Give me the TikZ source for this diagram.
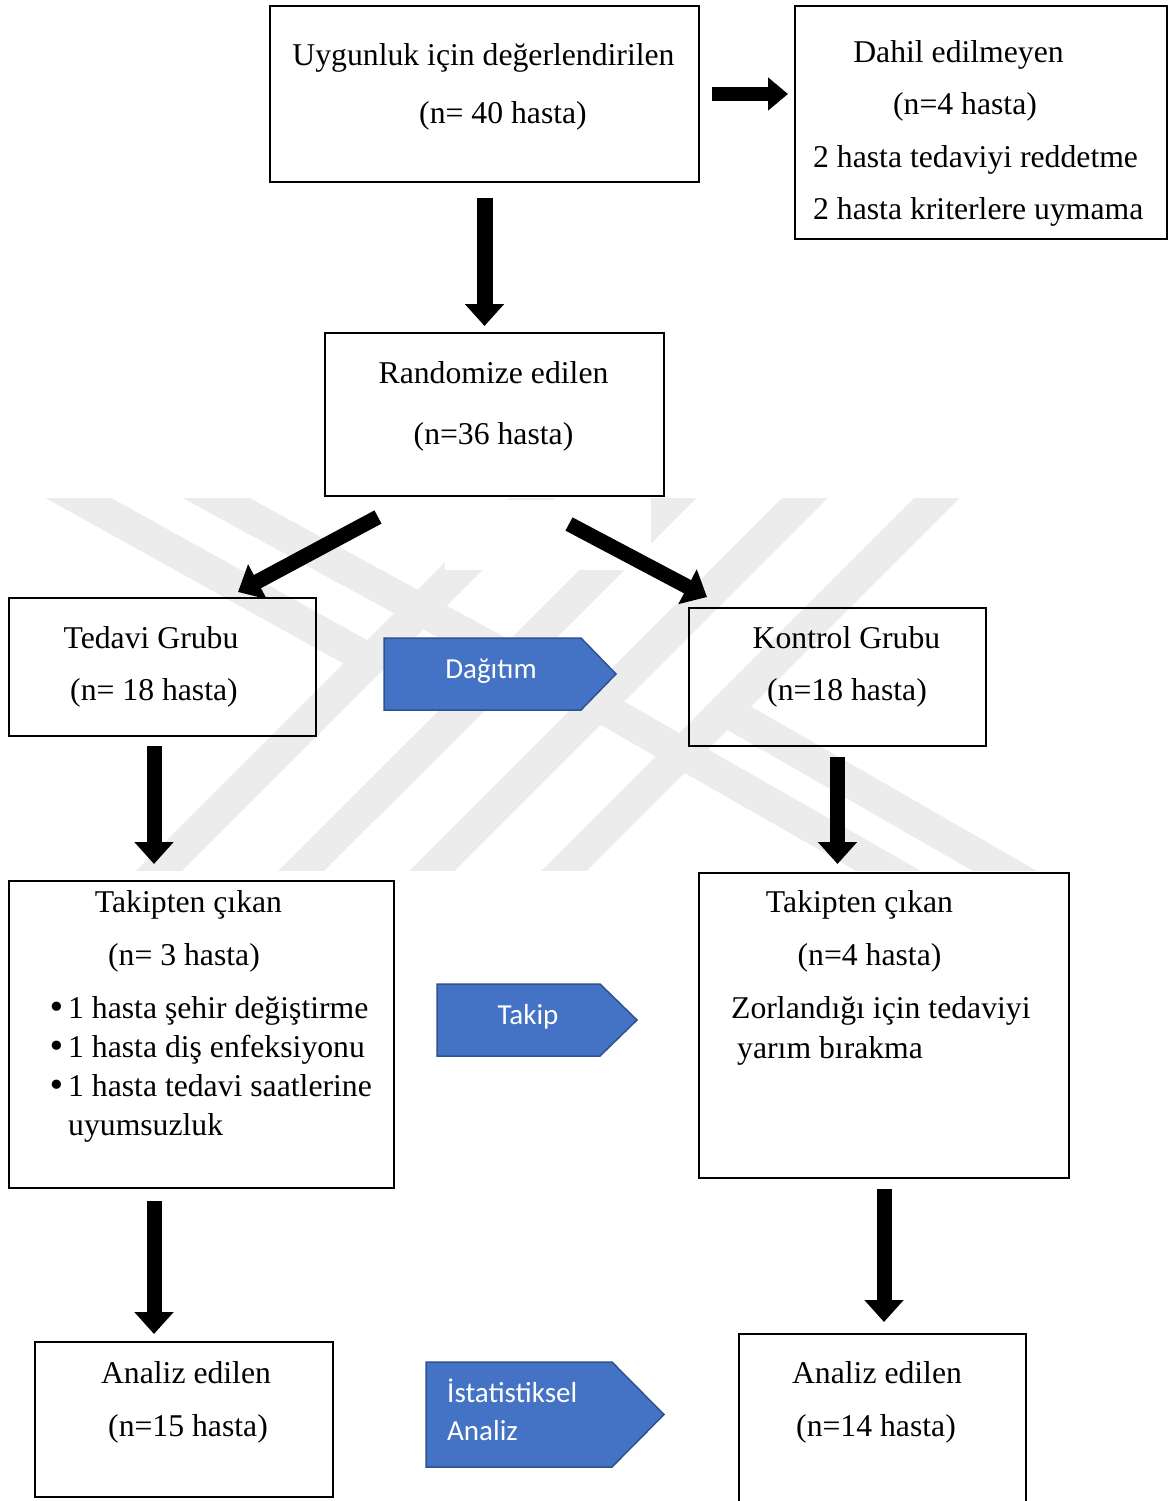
\documentclass[tikz,border=0pt]{standalone}
\usepackage{fontspec}
\setmainfont{Liberation Serif}
\newfontfamily\calfont{Carlito}
\newfontfamily\djvfont{DejaVu Sans}
\usetikzlibrary{arrows.meta}
\definecolor{wm}{RGB}{236,236,236}
\definecolor{bluefill}{RGB}{68,114,196}
\definecolor{blueline}{RGB}{47,82,143}
\newcommand{\bulletmark}{{\djvfont •}\kern1.7pt}
\begin{document}
\begin{tikzpicture}[x=1pt,y=-1pt,
 box/.style={draw=black,line width=2pt,inner sep=0pt,anchor=north west},
 tx/.style={font=\fontsize{31.7}{38}\selectfont,inner sep=0pt,text height=21pt,text depth=0pt},
 sx/.style={font=\calfont\fontsize{29}{35}\selectfont,text=white,inner sep=0pt,text height=18.7pt,text depth=0pt},
 bigarrow/.style={draw=black,line width=16pt,-{Triangle[width=38pt,length=22pt]}},
 band/.style={draw=wm,line width=32pt,line join=miter,miter limit=10},
 chev/.style={fill=bluefill,draw=blueline,line width=1.5pt}]
\useasboundingbox (0,0) rectangle (1168,1501);
\clip (0,0) rectangle (1168,1501);
\fill[white] (0,0) rectangle (1168,1501);
% watermark
\begin{scope}
\clip (0,498) rectangle (1168,870);
\draw[band] (140,890) -- (550,480);
\draw[band] (282,890) -- (692,480);
\draw[band] (413,890) -- (823,480);
\draw[band] (545,890) -- (955,480);
\draw[band] (46,480) -- (370,660) -- (140,890);
\draw[band] (183,480) -- (513,660) -- (282,890);
\draw[band] (955,480) -- (725,710) -- (1038,890);
\draw[band] (823,480) -- (598,705) -- (922,890);
\fill[white] (445,500) rectangle (651,570);
\end{scope}
% boxes
\node[box,minimum width=429pt,minimum height=176pt] (u) at (269,5) {};
\node[box,minimum width=372pt,minimum height=233pt] (d) at (794,5) {};
\node[box,minimum width=339pt,minimum height=163pt] (r) at (324,332) {};
\node[box,minimum width=307pt,minimum height=138pt] (teg) at (8,597) {};
\node[box,minimum width=297pt,minimum height=138pt] (kon) at (688,607) {};
\node[box,minimum width=385pt,minimum height=307pt] (tk) at (8,880) {};
\node[box,minimum width=370pt,minimum height=305pt] (tr) at (698,872) {};
\node[box,minimum width=298pt,minimum height=155pt] (al) at (34,1341) {};
\node[box,minimum width=287pt,minimum height=200pt] (ar) at (738,1333) {};
% texts
\node[tx] (u1) at (483.5,55) {Uygunluk için değerlendirilen};
\node[tx] (u2) at (503,113) {(n= 40 hasta)};
\node[tx] (d1) at (958.5,52) {Dahil edilmeyen};
\node[tx] (d2) at (965,104) {(n=4 hasta)};
\node[tx,anchor=west] (d3) at (813,157) {2 hasta tedaviyi reddetme};
\node[tx,anchor=west] (d4) at (813,209) {2 hasta kriterlere uymama};
\node[tx] (r1) at (493.5,373) {Randomize edilen};
\node[tx] (r2) at (493.5,434) {(n=36 hasta)};
\node[tx] (t1) at (151,638) {Tedavi Grubu};
\node[tx] (t2) at (154,690) {(n= 18 hasta)};
\node[tx] (k1) at (846.5,638) {Kontrol Grubu};
\node[tx] (k2) at (847,690) {(n=18 hasta)};
\node[tx] (tk1) at (188.5,902) {Takipten çıkan};
\node[tx] (tk2) at (184,955) {(n= 3 hasta)};
\node[tx,anchor=west] (tk3) at (47.6,1008) {\bulletmark 1 hasta şehir değiştirme};
\node[tx,anchor=west] (tk4) at (47.6,1047) {\bulletmark 1 hasta diş enfeksiyonu};
\node[tx,anchor=west] (tk5) at (47.6,1086) {\bulletmark 1 hasta tedavi saatlerine};
\node[tx,anchor=west] (tk6) at (68,1125) {uyumsuzluk};
\node[tx] (tr1) at (859.5,902) {Takipten çıkan};
\node[tx] (tr2) at (869.5,955) {(n=4 hasta)};
\node[tx,anchor=west] (tr3) at (731,1008) {Zorlandığı için tedaviyi};
\node[tx,anchor=west] (tr4) at (737,1048) {yarım bırakma};
\node[tx] (al1) at (186,1373) {Analiz edilen};
\node[tx] (al2) at (188,1426) {(n=15 hasta)};
\node[tx] (ar1) at (877,1373) {Analiz edilen};
\node[tx] (ar2) at (876,1426) {(n=14 hasta)};
% blue pentagons
\draw[chev] (384,638) -- (581,638) -- (616,674) -- (581,710) -- (384,710) -- cycle;
\node[sx] (dg) at (491,669) {Dağıtım};
\draw[chev] (437,984) -- (600,984) -- (637,1020) -- (600,1056) -- (437,1056) -- cycle;
\node[sx] (tkp) at (528,1015) {Takip};
\draw[chev] (426,1362) -- (612,1362) -- (664,1414.5) -- (612,1467) -- (426,1467) -- cycle;
\node[sx,anchor=west] (is1) at (447,1393.5) {İstatistiksel};
\node[sx,anchor=west] (is2) at (447,1431) {Analiz};
% arrows
\draw[bigarrow,line width=14pt,-{Triangle[width=32pt,length=20pt]}] ([xshift=12pt]u.east) -- ([xshift=-6pt]u.east -| d.west);
\draw[bigarrow] ([yshift=-15pt]u.south) -- ([yshift=6pt]u.south |- r.north);
\draw[bigarrow,line width=15pt] ([xshift=54pt,yshift=-20pt]r.south west) -- ([xshift=75.5pt,yshift=5pt]teg.north);
\draw[bigarrow,line width=15pt] ([xshift=-96pt,yshift=-27pt]r.south east) -- ([xshift=19pt,yshift=10pt]kon.north west);
\draw[bigarrow,line width=15pt] ([xshift=-8.5pt,yshift=-9pt]teg.south) -- ([xshift=-47.5pt,yshift=16pt]tk.north);
\draw[bigarrow,line width=15pt] ([yshift=-10pt]kon.south) -- ([yshift=8pt]kon.south |- tr.north);
\draw[bigarrow,line width=15pt] ([xshift=-47.5pt,yshift=-12pt]tk.south) -- ([xshift=-30pt,yshift=7pt]al.north);
\draw[bigarrow,line width=15pt] ([yshift=-10pt]tr.south) -- ([yshift=11pt]tr.south |- ar.north);
\end{tikzpicture}
\end{document}
